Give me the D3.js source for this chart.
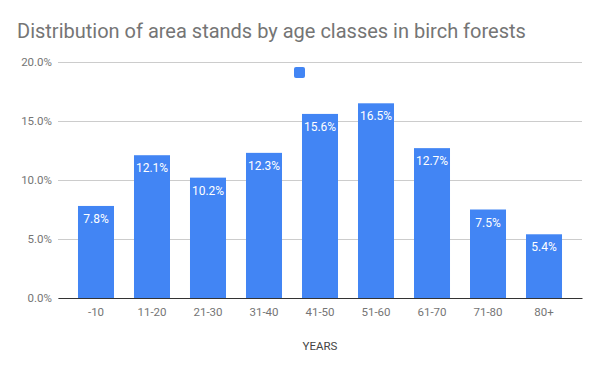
<!DOCTYPE html>
<html><head><meta charset="utf-8">
<script src="https://cdn.jsdelivr.net/npm/d3@7"></script>
<style>body{margin:0;background:#fff}text{font-family:Roboto,sans-serif}</style>
</head><body>
<svg id="c" width="600" height="371"></svg>
<script>
const categories = ["-10","11-20","21-30","31-40","41-50","51-60","61-70","71-80","80+"];
const values = [7.8,12.1,10.2,12.3,15.6,16.5,12.7,7.5,5.4];
const yTicks = [0,5,10,15,20];
const title = "Distribution of area stands by age classes in birch forests";
const xTitle = "YEARS";

const svg = d3.select("#c");
const plotLeft = 58, plotRight = 582, plotTop = 62, plotBottom = 298;
const x = d3.scaleBand().domain(categories).range([plotLeft,plotRight]).padding(0.357);
const y = d3.scaleLinear().domain([0,20]).range([plotBottom,plotTop]);

svg.append("rect").attr("width",600).attr("height",371).attr("fill","#fff");
svg.append("text").attr("x",17).attr("y",38).attr("font-size",20).attr("fill","#757575").text(title);

const yAxis = d3.axisLeft(y).tickValues(yTicks).tickSize(-(plotRight-plotLeft)).tickFormat(d=>d.toFixed(1)+"%");
const gy = svg.append("g").attr("transform",`translate(${plotLeft},0)`).call(yAxis);
gy.select(".domain").remove();
gy.selectAll(".tick line").attr("stroke","#cccccc");
gy.selectAll(".tick text").attr("x",-6).attr("font-size",11.5).attr("fill","#757575").attr("font-family","Roboto");

svg.append("g").selectAll("rect").data(values).join("rect")
  .attr("x",(d,i)=>x(categories[i])).attr("width",x.bandwidth())
  .attr("y",d=>y(d)).attr("height",d=>plotBottom-y(d)).attr("fill","#4285f4");

svg.append("g").selectAll("text").data(values).join("text")
  .attr("x",(d,i)=>x(categories[i])+x.bandwidth()/2).attr("y",d=>y(d)+17)
  .attr("text-anchor","middle").attr("font-size",12).attr("fill","#fff")
  .text(d=>d.toFixed(1)+"%");

const xAxis = d3.axisBottom(x).tickSize(0).tickPadding(10);
const gx = svg.append("g").attr("transform",`translate(0,${plotBottom})`).call(xAxis);
gx.select(".domain").attr("stroke","#333").attr("stroke-width",1);
gx.selectAll(".tick text").attr("font-size",11.5).attr("fill","#757575").attr("font-family","Roboto");

svg.append("text").attr("x",320).attr("y",350).attr("text-anchor","middle").attr("font-size",11.5).attr("fill","#444").text(xTitle);

svg.append("rect").attr("x",294).attr("y",67).attr("width",11).attr("height",11).attr("rx",2).attr("fill","#4285f4");
</script>
</body></html>
